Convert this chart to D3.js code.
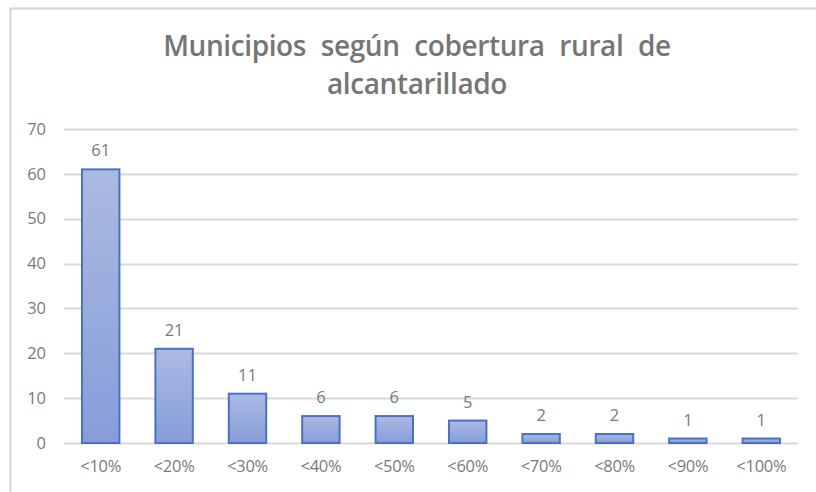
<!DOCTYPE html>
<html>
<head>
<meta charset="utf-8">
<script src="https://cdn.jsdelivr.net/npm/d3@7"></script>
<style>
  body { margin: 0; background: #fff; }
</style>
</head>
<body>
<div id="chart"></div>
<script>
// chart data
const categories = ['<10%', '<20%', '<30%', '<40%', '<50%', '<60%', '<70%', '<80%', '<90%', '<100%'];
const municipios = [61, 21, 11, 6, 6, 5, 2, 2, 1, 1];
const yTicks = [0, 10, 20, 30, 40, 50, 60, 70];
const titleLines = ['Municipios  según  cobertura  rural  de', 'alcantarillado'];

const width = 816, height = 492;
const plot = { left: 64, right: 798, top: 129, bottom: 443 };
const labelFont = '"Open Sans", sans-serif';

const svg = d3.select('#chart').append('svg')
    .attr('width', width)
    .attr('height', height);

// gradient for the bars
const grad = svg.append('defs').append('linearGradient')
    .attr('id', 'barGrad')
    .attr('x1', 0).attr('y1', 0).attr('x2', 0).attr('y2', 1);
grad.append('stop').attr('offset', '0%').attr('stop-color', '#abbae2');
grad.append('stop').attr('offset', '100%').attr('stop-color', '#869dd9');

// chart frame
svg.append('path')
    .attr('d', 'M10.5,' + height + ' V8.5 H' + width)
    .attr('fill', 'none')
    .attr('stroke', '#d4d4d4')
    .attr('stroke-width', 2);

// title (wide word spacing as in the original)
svg.append('g')
    .selectAll('text')
    .data(titleLines)
    .join('text')
    .attr('x', 417)
    .attr('y', (d, i) => 56 + i * 38)
    .attr('text-anchor', 'middle')
    .attr('font-family', labelFont)
    .attr('font-weight', 600)
    .attr('font-size', 28)
    .attr('letter-spacing', -0.4)
    .attr('word-spacing', 0.5)
    .attr('fill', '#767676')
    .style('white-space', 'pre')
    .text(d => d);

const xScale = d3.scaleBand()
    .domain(categories)
    .range([plot.left, plot.right])
    .paddingInner(0.49)
    .paddingOuter(0.245);

const yScale = d3.scaleLinear()
    .domain([0, 70])
    .range([plot.bottom, plot.top]);

// gridlines
svg.append('g')
    .selectAll('line')
    .data(yTicks)
    .join('line')
    .attr('x1', plot.left)
    .attr('x2', plot.right)
    .attr('y1', d => Math.round(yScale(d)) + 0.5)
    .attr('y2', d => Math.round(yScale(d)) + 0.5)
    .attr('stroke', '#d9d9d9')
    .attr('stroke-width', 2);

// y axis
const yAxis = svg.append('g')
    .attr('transform', 'translate(' + (plot.left - 18) + ',0)')
    .call(d3.axisLeft(yScale).tickValues(yTicks).tickSize(0).tickPadding(0));
yAxis.select('.domain').remove();
yAxis.selectAll('text')
    .attr('font-family', labelFont)
    .attr('font-size', 16.5)
    .attr('fill', '#7a7a7a');

// x axis
const xAxis = svg.append('g')
    .attr('transform', 'translate(0,' + plot.bottom + ')')
    .call(d3.axisBottom(xScale).tickSize(0).tickPadding(17));
xAxis.select('.domain').remove();
xAxis.selectAll('text')
    .attr('font-family', labelFont)
    .attr('font-size', 16.5)
    .attr('letter-spacing', -0.3)
    .attr('fill', '#7a7a7a');

// bars
svg.append('g')
    .selectAll('rect')
    .data(municipios)
    .join('rect')
    .attr('x', (d, i) => xScale(categories[i]))
    .attr('y', d => yScale(d))
    .attr('width', xScale.bandwidth())
    .attr('height', d => yScale(0) - yScale(d))
    .attr('fill', 'url(#barGrad)')
    .attr('stroke', '#4a72c4')
    .attr('stroke-width', 2);

// value labels
svg.append('g')
    .selectAll('text')
    .data(municipios)
    .join('text')
    .attr('x', (d, i) => xScale(categories[i]) + xScale.bandwidth() / 2)
    .attr('y', d => yScale(d) - 13)
    .attr('text-anchor', 'middle')
    .attr('font-family', labelFont)
    .attr('font-size', 16.5)
    .attr('fill', '#7a7a7a')
    .text(d => d);
</script>
</body>
</html>
